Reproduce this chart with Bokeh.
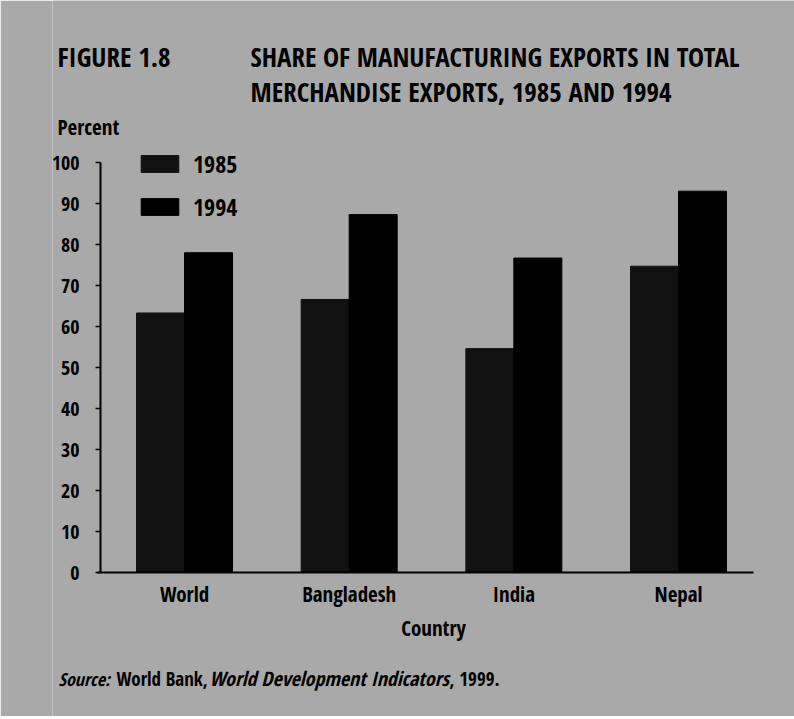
from bokeh.plotting import figure
from bokeh.models import (ColumnDataSource, Label, Legend, LegendItem, Range1d,
                          FixedTicker)
from bokeh.core.properties import value
from bokeh.transform import dodge
from bokeh.embed import file_html
from bokeh.resources import INLINE

# ---- data ----
countries = ["World", "Bangladesh", "India", "Nepal"]
share_1985 = [63.3, 66.6, 54.6, 74.7]
share_1994 = [78.0, 87.3, 76.7, 93.0]
years = ["1985", "1994"]
y_ticks = [0, 10, 20, 30, 40, 50, 60, 70, 80, 90, 100]

title_left = "FIGURE 1.8"
title_lines = ["SHARE OF MANUFACTURING EXPORTS IN TOTAL",
               "MERCHANDISE EXPORTS, 1985 AND 1994"]
y_title = "Percent"
x_title = "Country"
source_parts = [("Source:", "italic"), ("World Bank,", "normal"),
                ("World Development Indicators", "italic"), (", 1999.", "normal")]

# ---- style / geometry (page pixels) ----
FONT = "Open Sans Condensed"
BG = "#a9a9a9"
C1985 = "#111111"
C1994 = "#000000"

FRAME_L = 52
FRAME_W, FRAME_H = 794 - FRAME_L, 716
PPX = 164.67          # px per category
X0 = 184              # page x of first category centre
PPY = 4.1             # px per percent
Y0 = 572              # page y of 0 %
XS = (FRAME_L - X0) / PPX
XE = XS + FRAME_W / PPX
YE = Y0 / PPY
YS = YE - FRAME_H / PPY
TXT_SHIFT = 9         # baseline correction for text

def dx(px):
    return (px - X0) / PPX
def dy(py):
    return (Y0 - py) / PPY

p = figure(frame_width=FRAME_W, frame_height=FRAME_H,
           output_backend="svg", toolbar_location=None,
           x_range=Range1d(XS, XE), y_range=Range1d(YS, YE),
           min_border_left=FRAME_L, min_border_right=0,
           min_border_top=0, min_border_bottom=0)
p.background_fill_color = BG
p.border_fill_color = BG
p.outline_line_color = None
p.grid.visible = False

src = ColumnDataSource(dict(x=list(range(len(countries))), name=countries,
                            a=share_1985, b=share_1994))

bw = 0.2915
r1 = p.vbar(x=dodge("x", -bw / 2), top="a", bottom=0, width=bw, source=src,
            fill_color=C1985, line_color=C1985)
r2 = p.vbar(x=dodge("x", bw / 2), top="b", bottom=0, width=bw, source=src,
            fill_color=C1994, line_color=C1994)

# x axis: line at 0 %, category names written under it
xa = p.xaxis[0]
xa.fixed_location = 0
xa.ticker = FixedTicker(ticks=[])
xa.bounds = (dx(97), dx(753))
xa.major_tick_line_color = None
xa.minor_tick_line_color = None
xa.major_tick_out = 0
xa.major_label_standoff = 0
xa.axis_line_width = 2
xa.axis_line_color = "black"

p.text(x="x", y=0, text="name", source=src, y_offset=602 - Y0 - TXT_SHIFT,
       text_align="center", text_baseline="alphabetic",
       text_font=value(FONT), text_font_style="bold",
       text_font_size="21px", text_color="black")

# y axis
ya = p.yaxis[0]
ya.fixed_location = dx(100)
ya.ticker = FixedTicker(ticks=y_ticks)
ya.bounds = (0, 100)
ya.minor_tick_line_color = None
ya.major_tick_in = 0
ya.major_tick_out = 5
ya.major_tick_line_width = 1.5
ya.axis_line_width = 2
ya.axis_line_color = "black"
ya.major_label_text_font = FONT
ya.major_label_text_font_style = "bold"
ya.major_label_text_font_size = "20px"
ya.major_label_text_color = "black"
ya.major_label_standoff = 16

legend = Legend(items=[LegendItem(label=years[0], renderers=[r1]),
                       LegendItem(label=years[1], renderers=[r2])],
                location=(136 - FRAME_L, FRAME_H - 222.5), orientation="vertical",
                glyph_width=47, glyph_height=21, label_height=30,
                label_standoff=10, spacing=10, padding=0, margin=0,
                border_line_color=None, background_fill_alpha=0,
                label_text_font=FONT, label_text_font_size="24px",
                label_text_color="black")
p.add_layout(legend, "center")

def add_label(text, px, py, size, style="bold", align="left"):
    p.add_layout(Label(x=dx(px), y=dy(py - TXT_SHIFT), text=text,
                       text_font=FONT, text_font_style=style,
                       text_font_size=size, text_color="black",
                       text_align=align, text_baseline="alphabetic"))

add_label(title_left, 57, 65, "27px")
add_label(title_lines[0], 250, 65, "27px")
add_label(title_lines[1], 250, 100, "27px")
add_label(y_title, 57, 135, "21px")
add_label(x_title, 433, 636, "21px", align="center")

src_x = [58, 116, 209, 449]
src_size = ["18px", "19px", "20px", "19px"]
for (txt, st), sx, sz in zip(source_parts, src_x, src_size):
    add_label(txt, sx, 687, sz, style=st)

open("out.html", "w").write(file_html(p, INLINE))
